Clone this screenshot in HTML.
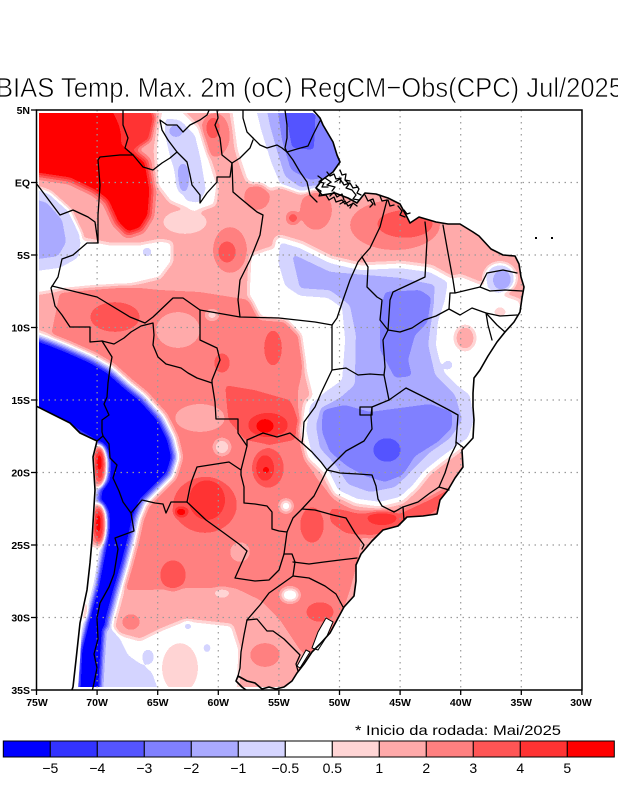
<!DOCTYPE html>
<html><head><meta charset="utf-8">
<style>
html,body{margin:0;padding:0;background:#fff;}
svg{display:block;}
.b{fill:none;stroke:#000;stroke-width:1.3;stroke-linejoin:round;stroke-linecap:round;}
.c{fill:none;stroke:#000;stroke-width:1.6;stroke-linejoin:round;stroke-linecap:round;}
.g{stroke:#9a9a9a;stroke-width:1.2;stroke-dasharray:1.5 4.5;fill:none;}
.t{font-family:"Liberation Sans",sans-serif;fill:#000;}
.l0{fill:#000}.l1{fill:#1d1d1d}.l2{fill:#313131}.l3{fill:#454545}.l4{fill:#585858}.l5{fill:#6c6c6c}.l6{fill:#808080}.l7{fill:#939393}.l8{fill:#a7a7a7}.l9{fill:#bababa}.l10{fill:#cecece}.l11{fill:#e2e2e2}.l12{fill:#fff}
</style></head>
<body>
<svg width="618" height="800" viewBox="0 0 618 800" xmlns="http://www.w3.org/2000/svg">
<defs>
<filter id="q" filterUnits="userSpaceOnUse" x="0" y="0" width="618" height="800" color-interpolation-filters="sRGB">
<feGaussianBlur stdDeviation="2.5"/>
<feComponentTransfer>
<feFuncR type="discrete" tableValues="0 0.2 0.333 0.502 0.667 0.835 1 1 1 1 1 1 1"/>
<feFuncG type="discrete" tableValues="0 0.2 0.333 0.502 0.667 0.835 1 0.835 0.667 0.502 0.333 0.2 0"/>
<feFuncB type="discrete" tableValues="1 1 1 1 1 1 1 0.835 0.667 0.502 0.333 0.2 0"/>
</feComponentTransfer>
</filter>
<clipPath id="land"><polygon points="39,113 313,113 320,118 323,125 333,142 337,155 340,162 333,172 322,180 316,188 322,195 335,193 348,198 357,203 365,193 376,194 388,198 400,204 407,217 410,223 419,217 436,222 448,224 460,224 473,232 479,236 491,249 503,255 515,256 519,264 521,277 524,287 522,298 520,312 514,322 505,332 497,342 488,356 480,370 474,378 473,393 473,407 474,420 473,438 462,450 463,467 455,478 448,490 440,500 437,514 423,516 407,517 398,526 383,530 372,541 361,554 356,565 356,581 354,596 344,607 337,620 330,633 320,644 312,652 304,664 297,673 292,681 286,687 78,687 80,660 82,623 88,590 91,563 93,540 96,490 94,457 98,441 80,433 70,423 50,413 39,408"/></clipPath>
</defs>
<rect width="618" height="800" fill="#fff"/>

<g clip-path="url(#land)">
<g filter="url(#q)">
<rect x="0" y="0" width="618" height="800" class="l8"/>
<polygon class="l9" points="60,292 120,286 160,290 200,292 250,300 290,306 305,320 305,360 298,390 298,430 305,460 318,480 335,500 355,512 362,530 358,560 350,590 340,620 330,650 320,670 300,650 280,620 260,600 235,588 180,588 150,590 125,590 120,560 130,520 140,480 130,450 100,420 70,380 50,340"/>
<ellipse class="l8" cx="178" cy="330" rx="22" ry="18"/>
<ellipse class="l8" cx="200" cy="418" rx="25" ry="14"/>
<ellipse class="l8" cx="240" cy="552" rx="10" ry="10"/>
<ellipse class="l10" cx="115" cy="317" rx="25" ry="15"/>
<ellipse class="l10" cx="273" cy="348" rx="9" ry="18"/>
<ellipse class="l10" cx="222" cy="363" rx="8" ry="10"/>
<polygon class="l10" points="225,385 255,390 290,400 300,420 295,440 270,445 245,440 228,420"/>
<ellipse class="l11" cx="268" cy="425" rx="20" ry="12"/>
<ellipse class="l12" cx="265" cy="426" rx="8" ry="6"/>
<ellipse class="l10" cx="268" cy="468" rx="16" ry="20"/>
<ellipse class="l11" cx="265" cy="468" rx="9" ry="13"/>
<ellipse class="l12" cx="266" cy="470" rx="3" ry="3"/>
<ellipse class="l10" cx="205" cy="505" rx="32" ry="28"/>
<ellipse class="l11" cx="207" cy="500" rx="18" ry="20"/>
<ellipse class="l12" cx="181" cy="512" rx="6" ry="4"/>
<ellipse class="l10" cx="173" cy="575" rx="13" ry="15"/>
<ellipse class="l10" cx="312" cy="525" rx="12" ry="18"/>
<ellipse class="l10" cx="320" cy="612" rx="14" ry="10"/>
<ellipse class="l6" cx="286" cy="506" rx="6" ry="6"/>
<ellipse class="l6" cx="290" cy="595" rx="9" ry="7"/>
<ellipse class="l7" cx="222" cy="593" rx="8" ry="5"/>
<ellipse class="l7" cx="222" cy="447" rx="8" ry="8"/>
<ellipse class="l7" cx="212" cy="315" rx="6" ry="5"/>
<ellipse class="l9" cx="265" cy="655" rx="15" ry="12"/>

<polygon class="l10" stroke="#cecece" stroke-width="10" stroke-linejoin="round" points="30,105 108,105 118,125 122,145 132,152 145,162 150,190 148,215 140,228 128,232 118,222 108,200 95,190 70,178 30,172"/>
<polygon class="l11" points="105,105 150,105 155,118 150,140 135,150 122,140"/>
<polygon class="l12" points="30,105 108,105 118,125 122,145 132,152 145,162 150,190 148,215 140,228 128,232 118,222 108,200 95,190 70,178 30,172"/>
<ellipse class="l9" cx="215" cy="135" rx="15" ry="22"/>
<ellipse class="l10" cx="213" cy="128" rx="7" ry="11"/>
<polygon class="l6" points="162,105 180,108 200,128 210,160 218,185 215,205 195,212 170,202 157,185 155,150 158,125"/>
<polygon class="l5" points="165,118 180,120 195,135 201,160 206,190 199,203 186,201 178,182 170,157 165,135"/>
<ellipse class="l4" cx="183" cy="178" rx="6" ry="15"/>
<ellipse class="l4" cx="176" cy="131" rx="7" ry="6"/>
<ellipse class="l7" cx="185" cy="222" rx="22" ry="12"/>
<polygon class="l6" points="230,105 258,105 266,135 276,165 284,186 262,192 246,180 236,150"/>
<polygon class="l5" points="255,105 345,105 348,190 300,193 281,186 271,162 261,130"/>
<polygon class="l4" points="266,105 345,105 343,183 300,187 285,176 277,150 270,125"/>
<polygon class="l3" points="277,105 345,105 340,175 310,180 291,170 282,140"/>
<polygon class="l2" points="284,105 316,105 314,150 292,148"/>
<ellipse class="l9" cx="230" cy="250" rx="17" ry="23"/>
<ellipse class="l10" cx="227" cy="252" rx="9" ry="11"/>
<ellipse class="l9" cx="257" cy="197" rx="13" ry="13"/>
<ellipse class="l10" cx="293" cy="218" rx="6" ry="6"/>
<ellipse class="l9" cx="395" cy="225" rx="45" ry="25"/>
<ellipse class="l10" cx="405" cy="224" rx="28" ry="14"/>
<ellipse class="l9" cx="316" cy="210" rx="16" ry="20"/>

<polygon class="l6" points="30,232 60,236 90,240 110,244 140,244 160,240 172,242 172,262 160,278 130,285 90,287 60,290 30,295"/>
<ellipse class="l5" cx="147" cy="252" rx="5" ry="5"/>
<polygon class="l5" points="30,185 50,192 70,210 82,235 78,258 60,268 30,272"/>
<polygon class="l4" points="30,198 47,203 62,220 66,242 58,256 30,260"/>

<polygon class="l6" points="436,282 460,275 485,285 505,295 520,300 527,330 510,350 490,375 482,400 478,440 470,455 460,440 455,400 440,370 432,340 432,300"/>
<polygon class="l6" points="250,255 270,248 285,250 290,285 310,298 340,302 348,320 348,380 330,395 312,398 305,370 300,335 285,320 260,318 248,295"/>
<polygon class="l10" points="330,508 360,512 400,512 430,498 448,488 455,498 425,520 395,532 370,537 345,533 330,522"/>
<ellipse class="l11" cx="382" cy="518" rx="15" ry="7"/>
<polygon class="l6" stroke="#808080" stroke-width="12" stroke-linejoin="round" points="280,242 300,248 330,263 360,270 400,268 430,272 448,282 445,300 438,322 436,345 442,370 458,386 470,395 474,420 468,438 455,447 440,458 425,470 413,485 400,497 380,502 357,499 338,490 328,470 312,455 306,430 310,405 325,392 342,380 345,340 342,308 328,298 300,296 285,286 278,262"/>
<polygon class="l5" points="280,242 300,248 330,263 360,270 400,268 430,272 448,282 445,300 438,322 436,345 442,370 458,386 470,395 474,420 468,438 455,447 440,458 425,470 413,485 400,497 380,502 357,499 338,490 328,470 312,455 306,430 310,405 325,392 342,380 345,340 342,308 328,298 300,296 285,286 278,262"/>
<polygon class="l4" points="292,254 330,272 400,278 435,285 432,312 428,345 435,375 455,395 462,420 450,438 430,452 412,470 395,487 370,492 348,484 336,465 320,448 316,425 322,408 340,398 355,385 356,335 350,305 330,290 300,288"/>
<polygon class="l3" points="385,292 420,290 432,298 428,322 415,335 408,360 412,376 395,378 380,350 380,312"/>
<polygon class="l3" points="322,410 345,405 370,412 400,408 430,404 452,412 452,428 438,442 415,456 403,475 385,482 365,476 347,466 330,452 322,432"/>
<ellipse class="l2" cx="387" cy="450" rx="14" ry="12"/>
<ellipse class="l5" cx="500" cy="278" rx="16" ry="15"/>
<ellipse class="l4" cx="502" cy="280" rx="9" ry="10"/>
<ellipse class="l8" cx="465" cy="338" rx="10" ry="12"/>
<ellipse class="l7" cx="500" cy="312" rx="6" ry="5"/>
<ellipse class="l5" cx="448" cy="365" rx="5" ry="5"/>

<polygon class="l6" points="112,632 140,640 160,630 185,620 205,622 232,625 240,650 238,695 108,695"/>
<ellipse class="l7" cx="180" cy="668" rx="18" ry="25"/>
<ellipse class="l5" cx="148" cy="657" rx="6" ry="8"/>
<ellipse class="l5" cx="188" cy="626" rx="4" ry="4"/>
<ellipse class="l5" cx="207" cy="648" rx="4" ry="5"/>
<ellipse class="l9" cx="131" cy="622" rx="9" ry="8"/>

<polygon class="l6" stroke="#808080" stroke-width="18" stroke-linejoin="round" points="30,338 50,345 65,351 90,362 107,372 125,388 140,400 158,420 168,440 172,457 167,473 153,487 140,500 133,517 128,540 122,563 114,590 106,620 102,657 100,695 78,695 80,650 88,620 98,585 106,545 108,512 100,500 102,488 109,480 110,460 106,448 95,440 70,425 30,408"/>
<polygon class="l4" stroke="#585858" stroke-width="10" stroke-linejoin="round" points="30,338 50,345 65,351 90,362 107,372 125,388 140,400 158,420 168,440 172,457 167,473 153,487 140,500 133,517 128,540 122,563 114,590 106,620 102,657 100,695 78,695 80,650 88,620 98,585 106,545 108,512 100,500 102,488 109,480 110,460 106,448 95,440 70,425 30,408"/>
<polygon class="l2" stroke="#313131" stroke-width="5" stroke-linejoin="round" points="30,338 50,345 65,351 90,362 107,372 125,388 140,400 158,420 168,440 172,457 167,473 153,487 140,500 133,517 128,540 122,563 114,590 106,620 102,657 100,695 78,695 80,650 88,620 98,585 106,545 108,512 100,500 102,488 109,480 110,460 106,448 95,440 70,425 30,408"/>
<polygon class="l6" points="70,545 103,545 96,585 87,620 80,650 78,695 60,695"/>
<polygon class="l0" points="30,338 50,345 65,351 90,362 107,372 125,388 140,400 158,420 168,440 172,457 167,473 153,487 140,500 133,517 128,540 122,563 114,590 106,620 102,657 100,695 78,695 80,650 88,620 98,585 106,545 108,512 100,500 102,488 109,480 110,460 106,448 95,440 70,425 30,408"/>
<ellipse class="l9" cx="99" cy="466" rx="8" ry="22"/>
<ellipse class="l11" cx="100" cy="465" rx="5" ry="17"/>
<ellipse class="l12" cx="99" cy="462" rx="2.5" ry="9"/>
<ellipse class="l9" cx="99" cy="525" rx="8" ry="22"/>
<ellipse class="l11" cx="99" cy="525" rx="5" ry="17"/>
<ellipse class="l12" cx="98" cy="523" rx="2.5" ry="10"/>
<ellipse class="l8" cx="85" cy="612" rx="3" ry="8"/>
<polygon class="l5" points="104,628 116,630 128,655 152,672 160,695 100,695 102,657"/>
</g>
</g>

<polygon points="326,618 333,622 327,636 318,650 312,648 318,632" fill="#fff" stroke="#000" stroke-width="1"/>
<polygon points="306,650 310,652 300,668 297,666" fill="#fff" stroke="#000" stroke-width="1"/>

<g class="g">
<line x1="97.1" y1="110" x2="97.1" y2="690"/><line x1="157.7" y1="110" x2="157.7" y2="690"/><line x1="218.3" y1="110" x2="218.3" y2="690"/><line x1="278.9" y1="110" x2="278.9" y2="690"/><line x1="339.5" y1="110" x2="339.5" y2="690"/><line x1="400.1" y1="110" x2="400.1" y2="690"/><line x1="460.7" y1="110" x2="460.7" y2="690"/><line x1="521.3" y1="110" x2="521.3" y2="690"/>
<line x1="36.5" y1="182.5" x2="582" y2="182.5"/><line x1="36.5" y1="255" x2="582" y2="255"/><line x1="36.5" y1="327.5" x2="582" y2="327.5"/><line x1="36.5" y1="400" x2="582" y2="400"/><line x1="36.5" y1="472.5" x2="582" y2="472.5"/><line x1="36.5" y1="545" x2="582" y2="545"/><line x1="36.5" y1="617.5" x2="582" y2="617.5"/>
</g>

<svg x="0" y="0" width="618" height="800" viewBox="0 0 618 800">
<clipPath id="fr"><rect x="36.5" y="110" width="545.5" height="580"/></clipPath>
<g clip-path="url(#fr)">
<g class="b">
<polyline points="123,108 123,125 128,138 125,148 133,155"/>
<polyline points="133,155 120,155 100,157 98,160 100,185 98,215 98,243"/>
<polyline points="36,183 45,195 60,215 73,210 88,217 95,222 98,243"/>
<polyline points="133,155 143,167 153,170 162,163 170,158 177,152 168,140 162,130 160,120 167,125 177,125 183,132 190,125 200,120 207,115 210,108"/>
<polyline points="210,108 217,110 218,118 215,125 220,138 222,155 232,163 240,158 250,148 253,140"/>
<polyline points="243,110 243,118 247,132 253,138"/>
<polyline points="253,138 260,145 267,148 277,145 282,148 287,152"/>
<polyline points="285,110 287,125 287,138 285,148 287,152"/>
<polyline points="287,152 297,149 308,146 313,135 320,121"/>
<polyline points="287,152 293,160 300,172 307,182 310,195 317,202"/>
<polyline points="177,152 187,162 190,175 192,185 200,195 200,203 207,193 217,182 217,177 230,177 232,163"/>
<polyline points="232,163 233,192 240,198 257,212 263,215 260,235 250,260 240,280 238,300 240,317"/>
<polyline points="98,243 87,243 73,255 62,259 58,277 51,288 55,306 62,315 70,327 90,327 90,342 102,341"/>
<polyline points="52,286 97,297 130,317 145,323"/>
<polyline points="102,341 114,344 124,338 131,332 141,326 153,323 154,335 153,345 158,357 166,364 181,368 188,373 197,378 212,383 215,402 216,419 238,419 238,433 247,446 244,458 241,470 241,475"/>
<polyline points="145,323 153,317 173,298 183,298 200,310"/>
<polyline points="200,310 240,317 279,318 315,322 332,325"/>
<polyline points="200,310 200,340 217,348 220,360 212,380 212,383"/>
<polyline points="332,325 337,318 343,300 350,280 358,262 362,257"/>
<polyline points="362,257 370,248 380,227 387,200"/>
<polyline points="362,257 368,267 367,287 377,297 382,300 380,320 388,330"/>
<polyline points="388,330 383,340 385,367 384,375 387,390 389,400"/>
<polyline points="425,222 427,240 425,277 393,292 390,300 388,330"/>
<polyline points="443,225 448,253 453,280 455,293 450,293 449,309"/>
<polyline points="388,330 400,332 412,328 424,320 436,316 449,309"/>
<polyline points="455,293 480,287 487,273 503,270 517,273"/>
<polyline points="480,287 490,291 505,290 522,291"/>
<polyline points="449,309 460,315 472,308 486,313 500,316 517,315"/>
<polyline points="486,313 497,325 505,332"/>
<polyline points="486,313 488,325 492,340"/>
<polyline points="332,370 346,368 358,375 370,374 384,375"/>
<polyline points="332,325 332,342 332,370 321,393 315,407 304,422 303,436 302,443"/>
<polyline points="302,443 290,433 277,437 263,433 247,440 247,446"/>
<polyline points="302,443 312,452 321,462 327,470"/>
<polyline points="327,470 320,484 314,496 302,509 293,518 287,532"/>
<polyline points="302,509 315,510 333,515 346,518 355,533 364,545 362,549"/>
<polyline points="389,400 372,407 371,416 372,429 364,441 346,451 333,464 327,470"/>
<polyline points="360,407 372,407 372,415 360,415 360,407"/>
<polyline points="327,470 340,473 358,474 372,475 376,486 378,499 382,506 394,512 403,507"/>
<polyline points="403,507 404,520"/>
<polyline points="403,507 418,502 430,493 439,487 449,490"/>
<polyline points="439,487 445,473 450,457 456,445 456,442"/>
<polyline points="456,442 464,448"/>
<polyline points="389,400 406,388 418,394 430,400 449,410 458,415 457,429 456,442"/>
<polyline points="293,562 309,564 324,562 340,560 357,558"/>
<polyline points="293,576 309,578 325,586 336,594 343,607"/>
<polyline points="284,554 292,554 295,562 293,576 279,586 269,593 260,605 247,620"/>
<polyline points="247,620 257,619 267,631 273,631 284,639 292,647 300,655 296,664 298,671"/>
<polyline points="247,620 244,635 241,652 240,668 238,676"/>
<polyline points="241,475 244,487 244,503 255,504 267,506 272,512 272,529 279,531 287,532 284,554"/>
<polyline points="187,502 206,520 224,533 239,544 247,551 235,578 255,581 269,580 279,570 284,554"/>
<polyline points="187,502 190,487 192,480 197,467 229,462 241,470"/>
<polyline points="131,513 142,500 155,503 163,504 166,513 171,502 184,502 187,502"/>
<polyline points="102,341 112,357 110,368 108,383 107,397 104,404 109,415 102,420 102,432 103,436"/>
<polyline points="103,436 97,441"/>
<polyline points="103,436 109,444 110,458 117,465 113,478 119,491 123,502 131,513"/>
<polyline points="131,513 134,531 115,538 118,549 114,574 109,587 100,603 97,618 98,639 94,654 97,668 94,683 92,692"/>
<path d="M316,188 l5,3 l-2,5 l7,-1 l3,5 l5,-3 l2,5 l6,-2 l3,4 l5,-3 M325,178 l6,4 l-4,3 l8,2 l-3,4 M335,182 l5,-3 l4,6 l6,-2 l3,5 l5,-1 M352,190 l4,5 l-3,4 l6,1 M365,195 l3,6 l5,-2 l2,6 M380,196 l2,5 l5,-1 M398,206 l4,5 l-2,4 l5,2 M318,176 l4,3 l-3,3 l5,1 l-2,4 l6,0 M327,172 l3,4 l4,-2 l2,5 l5,-1 l-1,5 M340,170 l2,5 l4,-1 l-1,6 l5,1 M345,180 l4,4 l-3,4 l6,2 M330,196 l4,-4 l3,5 l5,-3 l2,6 M340,204 l5,-3 l3,5 l4,-2 M350,208 l3,-5 l4,3 M356,185 l3,4 l-2,4 l4,2 M370,200 l3,4 l-3,3 M388,200 l2,6 l4,-1 M404,210 l3,4 l3,-1"/>
</g>
<polyline class="c" points="313,110 320,118 323,125 333,142 337,155 340,162 333,172 322,180 316,188 322,195 335,193 348,198 357,203 365,193 376,194 388,198 400,204 407,217 410,223 419,217 436,222 448,224 460,224 473,232 479,236 491,249 503,255 515,256 519,264 521,277 524,287 522,298 520,312 514,322 505,332 497,342 488,356 480,370 474,378 473,393 473,407 474,420 473,438 462,450 463,467 455,478 448,490 440,500 437,514 423,516 407,517 398,526 383,530 372,541 361,554 356,565 356,581 354,596 344,607 337,620 330,633 320,644 312,652 304,664 297,673 292,681 284,687 276,689 269,687 262,689 255,683 247,681 238,676 236,681 242,687 250,693"/>
<polyline class="c" points="70,695 73,687 76,660 80,623 87,590 90,563 92,540 95,490 93,457 97,441 80,433 70,423 50,413 36,406"/>
<rect x="535" y="237" width="2" height="2" fill="#000"/>
<rect x="551" y="237" width="2" height="2" fill="#000"/>
</g>
</svg>

<rect x="36.5" y="110" width="545.5" height="580" fill="none" stroke="#000" stroke-width="1.5"/>
<g stroke="#000" stroke-width="1.3">
<line x1="31" y1="110" x2="36.5" y2="110"/><line x1="31" y1="182.5" x2="36.5" y2="182.5"/><line x1="31" y1="255" x2="36.5" y2="255"/><line x1="31" y1="327.5" x2="36.5" y2="327.5"/><line x1="31" y1="400" x2="36.5" y2="400"/><line x1="31" y1="472.5" x2="36.5" y2="472.5"/><line x1="31" y1="545" x2="36.5" y2="545"/><line x1="31" y1="617.5" x2="36.5" y2="617.5"/><line x1="31" y1="690" x2="36.5" y2="690"/>
<line x1="36.5" y1="690" x2="36.5" y2="695"/><line x1="97.1" y1="690" x2="97.1" y2="695"/><line x1="157.7" y1="690" x2="157.7" y2="695"/><line x1="218.3" y1="690" x2="218.3" y2="695"/><line x1="278.9" y1="690" x2="278.9" y2="695"/><line x1="339.5" y1="690" x2="339.5" y2="695"/><line x1="400.1" y1="690" x2="400.1" y2="695"/><line x1="460.7" y1="690" x2="460.7" y2="695"/><line x1="521.3" y1="690" x2="521.3" y2="695"/><line x1="581.9" y1="690" x2="581.9" y2="695"/>
</g>
<g class="t" font-size="10.5" font-weight="bold" text-anchor="end">
<text x="30" y="114">5N</text><text x="30" y="186.5">EQ</text><text x="30" y="259">5S</text><text x="30" y="331.5">10S</text><text x="30" y="404">15S</text><text x="30" y="476.5">20S</text><text x="30" y="549">25S</text><text x="30" y="621.5">30S</text><text x="30" y="694">35S</text>
</g>
<g class="t" font-size="10.5" font-weight="bold" text-anchor="middle">
<text x="37" y="706">75W</text><text x="97.1" y="706">70W</text><text x="157.7" y="706">65W</text><text x="218.3" y="706">60W</text><text x="278.9" y="706">55W</text><text x="339.5" y="706">50W</text><text x="400.1" y="706">45W</text><text x="460.7" y="706">40W</text><text x="521.3" y="706">35W</text><text x="581" y="706">30W</text>
</g>

<text class="t" x="-4" y="97" font-size="28" stroke="#fff" stroke-width="0.7" textLength="627" lengthAdjust="spacingAndGlyphs">BIAS Temp. Max. 2m (oC) RegCM−Obs(CPC) Jul/2025</text>

<text class="t" x="355" y="735" font-size="14" textLength="206" lengthAdjust="spacingAndGlyphs">* Inicio da rodada: Mai/2025</text>

<g stroke="#000" stroke-width="1">
<rect x="3.3" y="741" width="47" height="16" fill="#0000ff"/>
<rect x="50.3" y="741" width="47" height="16" fill="#3333ff"/>
<rect x="97.3" y="741" width="47" height="16" fill="#5555ff"/>
<rect x="144.3" y="741" width="47" height="16" fill="#8080ff"/>
<rect x="191.3" y="741" width="47" height="16" fill="#aaaaff"/>
<rect x="238.3" y="741" width="47" height="16" fill="#d5d5ff"/>
<rect x="285.3" y="741" width="47" height="16" fill="#ffffff"/>
<rect x="332.3" y="741" width="47" height="16" fill="#ffd5d5"/>
<rect x="379.3" y="741" width="47" height="16" fill="#ffaaaa"/>
<rect x="426.3" y="741" width="47" height="16" fill="#ff8080"/>
<rect x="473.3" y="741" width="47" height="16" fill="#ff5555"/>
<rect x="520.3" y="741" width="47" height="16" fill="#ff3333"/>
<rect x="567.3" y="741" width="47" height="16" fill="#ff0000"/>
</g>
<g class="t" font-size="14" text-anchor="middle">
<text x="50.3" y="773">−5</text><text x="97.3" y="773">−4</text><text x="144.3" y="773">−3</text><text x="191.3" y="773">−2</text><text x="238.3" y="773">−1</text><text x="285.3" y="773">−0.5</text><text x="332.3" y="773">0.5</text><text x="379.3" y="773">1</text><text x="426.3" y="773">2</text><text x="473.3" y="773">3</text><text x="520.3" y="773">4</text><text x="567.3" y="773">5</text>
</g>
</svg>
</body></html>
